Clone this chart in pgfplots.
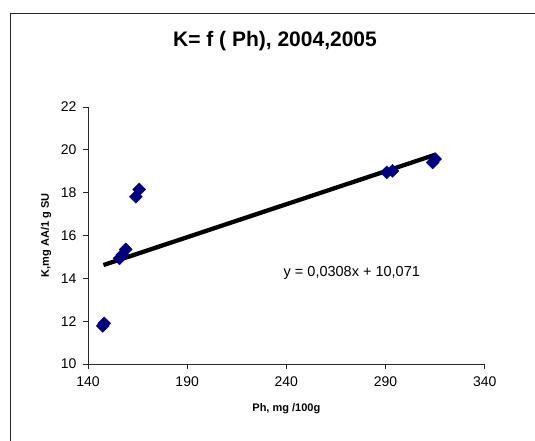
\documentclass[border=0pt]{standalone}
\usepackage{pgfplots}
\pgfplotsset{compat=1.18}
\usepackage{fontspec}
\setmainfont{Liberation Sans}
\definecolor{excelnavy}{RGB}{0,0,128}
\definecolor{framegray}{RGB}{40,40,40}

\begin{document}
\begin{tikzpicture}
\useasboundingbox (0,0) rectangle (535pt,-441pt);
\clip (0,0) rectangle (535pt,-441pt);
\fill[white] (0,0) rectangle (535pt,-441pt);
% chart area border (runs past right and bottom edges)
\draw[overlay, framegray, line width=1pt] (10pt,-13.7pt) rectangle (560pt,-470pt);
\node[font=\fontsize{21}{24}\selectfont\bfseries] at (275pt,-40.7pt) {K= f ( Ph), 2004,2005};

\begin{axis}[
    at={(88pt,-364pt)}, anchor=south west,
    scale only axis,
    width=396.7pt, height=257pt,
    xmin=140, xmax=340, ymin=10, ymax=22,
    xtick={140,190,240,290,340},
    ytick={10,12,14,16,18,20,22},
    axis x line*=bottom, axis y line*=left,
    axis line style={framegray, line width=0.9pt},
    tick align=outside,
    major tick length=5pt,
    tick style={framegray, line width=0.9pt},
    /pgf/number format/assume math mode=true,
    ticklabel style={font=\fontsize{14}{16}\selectfont},
    xticklabel style={yshift=-4pt},
    yticklabel style={xshift=-3pt},
    xlabel={Ph, mg /100g},
    ylabel={K,mg AA/1 g SU},
    label style={font=\fontsize{11}{13}\selectfont\bfseries},
    xlabel style={at={(axis description cs:0.5,-0.175)}, anchor=center},
    ylabel style={at={(axis description cs:-0.106,0.5)}, anchor=center},
    clip=false,
]
\addplot[only marks, mark=square*, mark size=4.6pt,
    mark options={rotate=45, fill=excelnavy, draw=excelnavy}]
coordinates {
    (147.4,11.78) (148.2,11.90) (155.9,14.93) (157.3,15.10) (159.0,15.35)
    (164.1,17.81) (165.8,18.15) (290.6,18.95) (293.5,19.02)
    (313.8,19.41) (315.0,19.57)
};
\addplot[black, line width=4.3pt] coordinates {
    (147.8,14.62) (315.0,19.77)
};
\node[font=\fontsize{14.5}{16}\selectfont] at (axis cs:273,14.25) {y = 0,0308x + 10,071};
\end{axis}
\end{tikzpicture}
\end{document}
